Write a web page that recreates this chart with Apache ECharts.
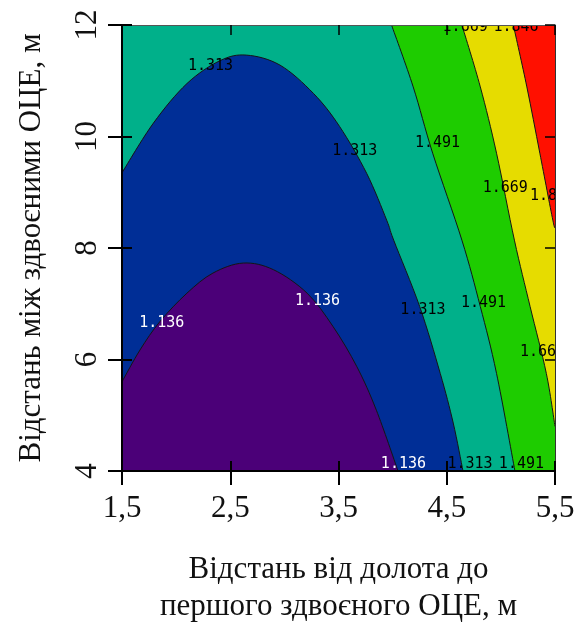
<!DOCTYPE html>
<html>
<head>
<meta charset="utf-8">
<script src="https://cdn.jsdelivr.net/npm/echarts@6/dist/echarts.min.js"></script>
<style>
  html, body { margin: 0; padding: 0; background: #fff; }
  #chart { width: 580px; height: 626px; }
</style>
</head>
<body>
<div id="chart"></div>
<script>
// Contour levels and the fill colour of the band below each level (last = above all)
const levels = [1.136, 1.313, 1.491, 1.669, 1.846];
const bandColors = ['#4b0078', '#002e96', '#00b08a', '#1ecc00', '#e6dc00', '#ff1000'];

// Iso-lines as [x, y] points (x: distance from bit, m; y: spacing between doubled centralizers, m)
const line1136 = [[1.5, 5.60], [1.666, 6.17], [1.85, 6.68], [2.10, 7.19], [2.34, 7.55], [2.62, 7.73],
                  [2.90, 7.61], [3.21, 7.19], [3.45, 6.59], [3.67, 5.87], [3.85, 5.09], [4.05, 4.0]];
const line1313 = [[1.5, 9.35], [1.79, 10.24], [2.10, 10.95], [2.405, 11.36], [2.65, 11.46], [2.96, 11.28],
                  [3.27, 10.77], [3.51, 10.18], [3.76, 9.34], [3.945, 8.50], [4.01, 8.14], [4.25, 6.95],
                  [4.44, 5.75], [4.56, 4.86], [4.65, 4.0]];
const line1491 = [[3.99, 12.0], [4.19, 10.89], [4.37, 9.70], [4.64, 8.14], [4.81, 6.95], [4.96, 5.75], [5.13, 4.0]];
const line1669 = [[4.64, 12.0], [4.81, 10.89], [4.96, 9.70], [5.125, 8.14], [5.27, 6.95], [5.42, 5.75], [5.5, 4.8]];
const line1846 = [[5.115, 12.0], [5.24, 10.89], [5.36, 9.70], [5.48, 8.50], [5.5, 8.38]];
const contourLines = [line1136, line1313, line1491, line1669, line1846];

// Inline contour labels: [x, y, level index]
const contourLabels = [
  [2.318, 11.27, 1], [3.65, 9.73, 1], [4.415, 9.88, 2], [5.04, 9.08, 3], [5.477, 8.93, 4],
  [4.28, 6.89, 1], [4.84, 7.01, 2], [5.385, 6.14, 3], [4.67, 11.97, 3], [5.14, 11.97, 4],
  [4.10, 4.13, 0], [4.715, 4.13, 1], [5.19, 4.13, 2], [1.867, 6.65, 0], [3.306, 7.04, 0]
];

// Axis ticks and labels
const xTicks = [1.5, 2.5, 3.5, 4.5, 5.5];
const xTickLabels = ['1,5', '2,5', '3,5', '4,5', '5,5'];
const yTicks = [4, 6, 8, 10, 12];
const yTickLabels = ['4', '6', '8', '10', '12'];

const X_MIN = xTicks[0], X_MAX = xTicks[xTicks.length - 1];
const Y_MIN = yTicks[0], Y_MAX = yTicks[yTicks.length - 1];

function lookup(ticks, labels, v) {
  const i = ticks.findIndex(t => Math.abs(t - v) < 1e-6);
  return i < 0 ? '' : labels[i];
}

// Catmull-Rom spline through pixel points, as SVG path data
function splinePath(px) {
  let d = 'M' + px[0][0] + ' ' + px[0][1];
  for (let i = 0; i < px.length - 1; i++) {
    const p0 = px[i - 1] || px[i], p1 = px[i], p2 = px[i + 1], p3 = px[i + 2] || px[i + 1];
    const c1 = [p1[0] + (p2[0] - p0[0]) / 6, p1[1] + (p2[1] - p0[1]) / 6];
    const c2 = [p2[0] - (p3[0] - p1[0]) / 6, p2[1] - (p3[1] - p1[1]) / 6];
    d += ' C' + c1[0] + ' ' + c1[1] + ' ' + c2[0] + ' ' + c2[1] + ' ' + p2[0] + ' ' + p2[1];
  }
  return d;
}

// Region below a level: the iso-line closed through the lower-left corner of the plot
function regionPath(api, line) {
  let d = splinePath(line.map(p => api.coord(p)));
  const first = line[0], last = line[line.length - 1];
  const corners = [];
  if (last[0] >= X_MAX && last[1] > Y_MIN) corners.push([X_MAX, Y_MIN]);
  corners.push([X_MIN, Y_MIN]);
  if (first[1] >= Y_MAX && first[0] > X_MIN) corners.push([X_MIN, Y_MAX]);
  corners.forEach(c => { const q = api.coord(c); d += ' L' + q[0] + ' ' + q[1]; });
  return d + ' Z';
}

const drawOrder = [5, 4, 3, 2, 1, 0];
const serifFont = '"Liberation Serif", "Times New Roman", serif';
const textColor = '#111';

const chart = echarts.init(document.getElementById('chart'), null, { renderer: 'canvas' });

const xBase = { type: 'value', min: X_MIN, max: X_MAX, interval: 1, splitLine: { show: false }, z: 10 };
const yBase = { type: 'value', min: Y_MIN, max: Y_MAX, interval: 2, splitLine: { show: false }, z: 10 };

chart.setOption({
  animation: false,
  backgroundColor: '#fff',
  grid: { left: 122, top: 25, width: 433, height: 446, containLabel: false, outerBoundsMode: 'none' },
  xAxis: [
    Object.assign({}, xBase, {
      position: 'bottom',
      axisLine: { show: true, lineStyle: { color: '#000', width: 2 } },
      axisTick: { show: true, inside: false, length: 14, lineStyle: { color: '#000', width: 2 } },
      axisLabel: {
        margin: 22, color: textColor, fontSize: 31, fontFamily: serifFont,
        formatter: v => lookup(xTicks, xTickLabels, v)
      },
      name: 'Відстань від долота до\nпершого здвоєного ОЦЕ, м',
      nameLocation: 'middle', nameGap: 80,
      nameTextStyle: { color: textColor, fontSize: 31, fontFamily: serifFont, lineHeight: 37 }
    }),
    Object.assign({}, xBase, {
      position: 'bottom',
      axisLine: { show: false },
      axisTick: { show: true, inside: true, length: 10, lineStyle: { color: '#000', width: 2 } },
      axisLabel: { show: false }
    }),
    Object.assign({}, xBase, {
      position: 'top',
      axisLine: { show: true, lineStyle: { color: '#555', width: 1 } },
      axisTick: { show: true, inside: true, length: 10, lineStyle: { color: '#000', width: 1.5 } },
      axisLabel: { show: false }
    })
  ],
  yAxis: [
    Object.assign({}, yBase, {
      position: 'left',
      axisLine: { show: true, lineStyle: { color: '#000', width: 2 } },
      axisTick: { show: true, inside: false, length: 14, lineStyle: { color: '#000', width: 2 } },
      axisLabel: {
        rotate: 90, margin: 19, color: textColor, fontSize: 31, fontFamily: serifFont,
        formatter: v => lookup(yTicks, yTickLabels, v)
      },
      name: 'Відстань між здвоєними ОЦЕ, м',
      nameLocation: 'middle', nameGap: 75,
      nameTextStyle: { color: textColor, fontSize: 31, fontFamily: serifFont }
    }),
    Object.assign({}, yBase, {
      position: 'left',
      axisLine: { show: false },
      axisTick: { show: true, inside: true, length: 10, lineStyle: { color: '#000', width: 2 } },
      axisLabel: { show: false }
    }),
    Object.assign({}, yBase, {
      position: 'right',
      axisLine: { show: true, lineStyle: { color: '#333', width: 1 } },
      axisTick: { show: true, inside: true, length: 10, lineStyle: { color: '#000', width: 1.5 } },
      axisLabel: { show: false }
    })
  ],
  series: [
    {
      // filled bands, painted from the highest level down
      type: 'custom',
      coordinateSystem: 'cartesian2d',
      clip: true,
      silent: true,
      data: drawOrder.map(k => [k]),
      encode: { x: -1, y: -1 },
      renderItem: function (params, api) {
        const k = drawOrder[params.dataIndex];
        if (k === levels.length) {
          const a = api.coord([X_MIN, Y_MAX]), b = api.coord([X_MAX, Y_MIN]);
          return { type: 'rect', shape: { x: a[0], y: a[1], width: b[0] - a[0], height: b[1] - a[1] },
                   style: { fill: bandColors[k] } };
        }
        return { type: 'path', shape: { pathData: regionPath(api, contourLines[k]) },
                 style: { fill: bandColors[k], stroke: null } };
      }
    },
    {
      // iso-lines
      type: 'custom',
      coordinateSystem: 'cartesian2d',
      clip: true,
      silent: true,
      data: contourLines.map((_, i) => [i]),
      encode: { x: -1, y: -1 },
      renderItem: function (params, api) {
        const line = contourLines[params.dataIndex];
        return { type: 'path', shape: { pathData: splinePath(line.map(p => api.coord(p))) },
                 style: { fill: null, stroke: '#151515', lineWidth: 1 } };
      }
    },
    {
      // level labels along the iso-lines
      type: 'custom',
      coordinateSystem: 'cartesian2d',
      clip: true,
      silent: true,
      data: contourLabels,
      encode: { x: 0, y: 1 },
      renderItem: function (params, api) {
        const p = api.coord([api.value(0), api.value(1)]);
        const k = api.value(2);
        return {
          type: 'text', x: p[0], y: p[1],
          style: {
            text: levels[k].toFixed(3), fill: k === 0 ? '#fff' : '#000',
            font: '15px "DejaVu Sans Mono", monospace', align: 'center', verticalAlign: 'middle'
          }
        };
      }
    }
  ]
});
</script>
</body>
</html>
